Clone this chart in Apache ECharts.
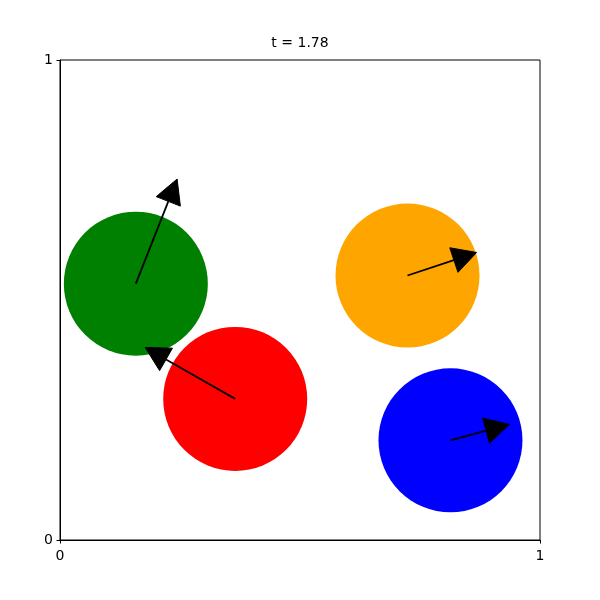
<!DOCTYPE html>
<html>
<head>
<meta charset="utf-8">
<script src="https://cdn.jsdelivr.net/npm/echarts@6/dist/echarts.min.js"></script>
<style>
  html, body { margin: 0; padding: 0; background: #fff; }
  #chart { width: 600px; height: 600px; }
</style>
</head>
<body>
<div id="chart"></div>
<script>
// ball centres (axis units) and velocity arrows (tip offsets)
var ballX = [0.158, 0.365, 0.724, 0.8135];
var ballY = [0.534, 0.294, 0.551, 0.2077];
var arrowDx = [0.086, -0.1875, 0.144, 0.1225];
var arrowDy = [0.218, 0.107, 0.048, 0.033];
var ballRadius = 0.15;
var timeLabel = 't = 1.78';
var xTicks = [0, 1];
var yTicks = [0, 1];

var ballColors = ['#008000', '#ff0000', '#ffa500', '#0000ff'];
var headLength = 0.05;
var headWidth = 0.054;

var balls = ballX.map(function (x, i) { return [x, ballY[i], ballRadius, i]; });
var arrows = ballX.map(function (x, i) { return [x, ballY[i], arrowDx[i], arrowDy[i]]; });

var chart = echarts.init(document.getElementById('chart'));

var axisCommon = {
  type: 'value',
  min: xTicks[0],
  max: xTicks[xTicks.length - 1],
  interval: 1,
  axisLine: { show: true, onZero: false, lineStyle: { color: '#000', width: 1 } },
  axisTick: { show: true, inside: false, length: 3.5, lineStyle: { color: '#000', width: 1 } },
  axisLabel: { color: '#000', fontFamily: 'DejaVu Sans', fontSize: 14, margin: 7 },
  splitLine: { show: false }
};

chart.setOption({
  animation: false,
  backgroundColor: '#fff',
  title: {
    text: timeLabel,
    left: 'center',
    top: 31,
    textStyle: { color: '#000', fontFamily: 'DejaVu Sans', fontSize: 14, fontWeight: 'normal' }
  },
  grid: {
    left: 60, top: 60, width: 480, height: 480,
    show: true, borderColor: '#000', borderWidth: 1, backgroundColor: 'transparent'
  },
  xAxis: Object.assign({}, axisCommon, { axisLabel: Object.assign({}, axisCommon.axisLabel, { margin: 9 }) }),
  yAxis: Object.assign({}, axisCommon, { min: yTicks[0], max: yTicks[yTicks.length - 1] }),
  series: [
    {
      type: 'custom',
      data: balls,
      clip: true,
      renderItem: function (params, api) {
        var c = api.coord([api.value(0), api.value(1)]);
        var r = api.size([api.value(2), api.value(2)])[0];
        return {
          type: 'circle',
          shape: { cx: c[0], cy: c[1], r: r },
          style: { fill: ballColors[api.value(3)] }
        };
      }
    },
    {
      type: 'custom',
      data: arrows,
      z: 3,
      renderItem: function (params, api) {
        var x = api.value(0), y = api.value(1);
        var s = api.coord([x, y]);
        var t = api.coord([x + api.value(2), y + api.value(3)]);
        var hl = api.size([headLength, headLength])[0];
        var hw = api.size([headWidth, headWidth])[0];
        var vx = t[0] - s[0], vy = t[1] - s[1];
        var len = Math.sqrt(vx * vx + vy * vy);
        var ux = vx / len, uy = vy / len;
        var bx = t[0] - ux * hl, by = t[1] - uy * hl;
        var px = -uy * hw / 2, py = ux * hw / 2;
        return {
          type: 'group',
          children: [
            {
              type: 'line',
              shape: { x1: s[0], y1: s[1], x2: bx, y2: by },
              style: { stroke: '#000', lineWidth: 1.8 }
            },
            {
              type: 'polygon',
              shape: { points: [[t[0], t[1]], [bx + px, by + py], [bx - px, by - py]] },
              style: { fill: '#000', stroke: '#000', lineWidth: 1 }
            }
          ]
        };
      }
    }
  ]
});
</script>
</body>
</html>
